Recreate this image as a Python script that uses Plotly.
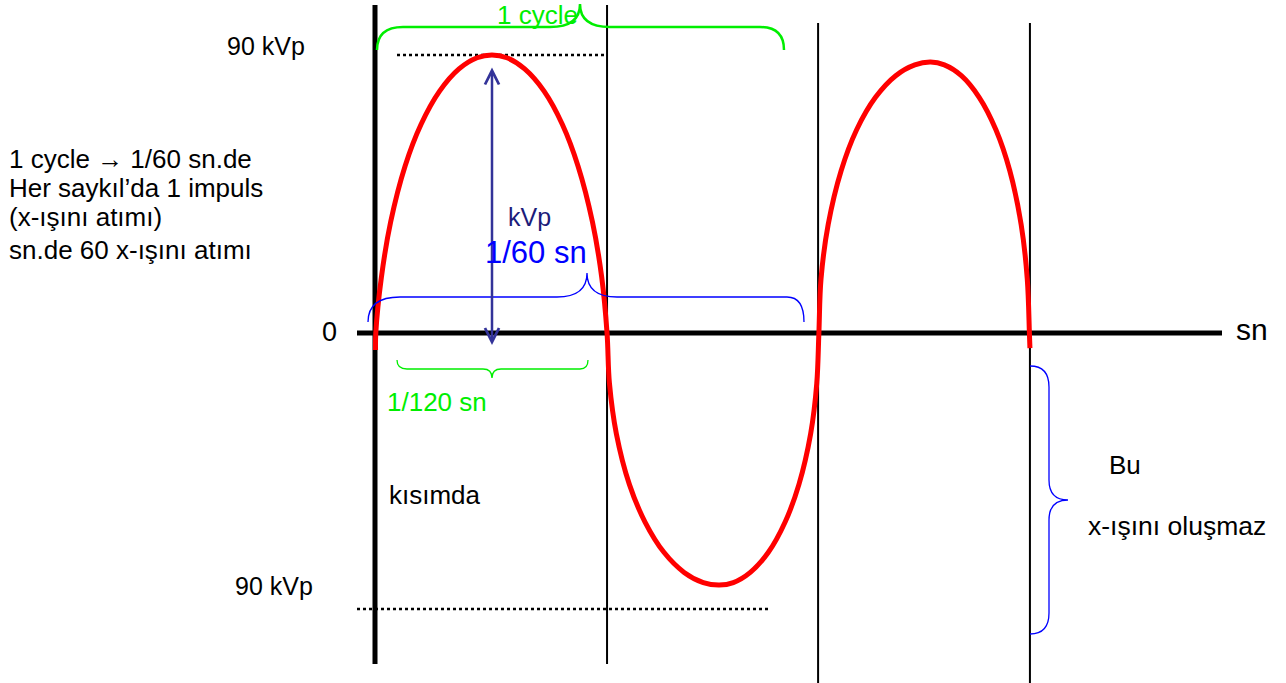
import plotly.graph_objects as go

# wave: time in ms (0 = first crossing), voltage in kVp
T_MS = [0.02, 0.03, 0.24, 0.59, 1.13, 1.73, 2.43, 3.16, 3.84, 4.40, 4.96, 5.63, 6.36,
        7.05, 7.64, 8.18, 8.53, 8.73,
        8.82, 9.08, 9.57, 10.16, 10.87, 11.63, 12.35, 12.95, 13.48, 14.12, 14.80,
        15.43, 15.95, 16.39, 16.62, 16.70,
        16.78, 17.05, 17.54, 18.12, 18.83, 19.59, 20.31, 20.90, 21.42, 22.06, 22.73,
        23.36, 23.88, 24.31, 24.54, 24.62, 24.64]
KVP = [-5.5, 0, 18, 36, 54, 67.5, 78.3, 85.5, 89.1, 90, 89.1, 85.5, 78.3,
       67.5, 54, 36, 18, 0,
       -16.3, -32.6, -49.0, -61.2, -71.0, -77.5, -80.8, -81.6, -80.8, -77.5, -71.0,
       -61.2, -49.0, -32.6, -16.3, 0,
       17.5, 35.1, 52.6, 65.8, 76.3, 83.3, 86.8, 87.7, 86.8, 83.3, 76.3,
       65.8, 52.6, 35.1, 17.5, 0, -4.9]

# half-cycle boundaries (ms) and peak level
CROSSINGS = [0, 8.73, 16.67, 24.64]
PEAK_KVP = 90

LEFT_NOTES = ["1 cycle \u2192 1/60 sn.de", "Her sayk\u0131l\u2019da 1 impuls",
              "(x-\u0131\u015f\u0131n\u0131 at\u0131m\u0131)", "sn.de 60 x-\u0131\u015f\u0131n\u0131 at\u0131m\u0131"]

RED = '#FF0000'
GREEN = '#00EE00'
BLUE = '#0000FF'
NAVY = '#333399'
BLACK = '#000000'
FONT = 'Liberation Sans, Arial, sans-serif'

W, H = 1286, 683
T0_PX = 375          # pixel of t = 0
PX_PER_MS = 26.58
Z_PX = 333           # pixel of 0 kVp
PX_PER_KV = 3.0889


def X(px):
    return (px - T0_PX) / PX_PER_MS


def Y(py):
    return (Z_PX - py) / PX_PER_KV


def P(px, py):
    return f'{X(px):.4f},{Y(py):.4f}'


def hbrace(x0, x1, xt, ye, yf, yt, r0, r1, rt):
    return (f'M {P(x0, ye)} Q {P(x0, yf)} {P(x0 + r0, yf)} L {P(xt - rt, yf)} '
            f'Q {P(xt, yf)} {P(xt, yt)} Q {P(xt, yf)} {P(xt + rt, yf)} '
            f'L {P(x1 - r1, yf)} Q {P(x1, yf)} {P(x1, ye)}')


def vbrace(y0, y1, yt, xe, xf, xt, r0, r1, rt):
    return (f'M {P(xe, y0)} Q {P(xf, y0)} {P(xf, y0 + r0)} L {P(xf, yt - rt)} '
            f'Q {P(xf, yt)} {P(xt, yt)} Q {P(xf, yt)} {P(xf, yt + rt)} '
            f'L {P(xf, y1 - r1)} Q {P(xf, y1)} {P(xe, y1)}')


fig = go.Figure()

fig.add_trace(go.Scatter(
    x=T_MS, y=KVP, mode='lines',
    line=dict(color=RED, width=5, shape='spline', smoothing=1.0),
    hoverinfo='skip', showlegend=False,
))

shapes = []
# time axis
shapes.append(dict(type='line', x0=X(357), x1=X(1222), y0=0, y1=0,
                   line=dict(color=BLACK, width=5), layer='below'))
# vertical markers at the crossings
v_tops = [5, 5, 23, 23]
v_bots = [664, 664, 683, 683]
v_w = [5, 2, 2, 2]
for t, top, bot, w in zip(CROSSINGS, v_tops, v_bots, v_w):
    shapes.append(dict(type='line', x0=t, x1=t, y0=Y(bot), y1=Y(top),
                       line=dict(color=BLACK, width=w), layer='below'))
# peak levels
shapes.append(dict(type='line', x0=X(397), x1=CROSSINGS[1], y0=PEAK_KVP, y1=PEAK_KVP,
                   line=dict(color=BLACK, width=2.5, dash='dot'), layer='below'))
shapes.append(dict(type='line', x0=X(357), x1=X(770), y0=Y(609), y1=Y(609),
                   line=dict(color=BLACK, width=2.5, dash='dot'), layer='below'))
# braces
shapes.append(dict(type='path', path=hbrace(377, 784, 580, 50, 27, 4, 26, 24, 30),
                   line=dict(color=GREEN, width=2.5)))
shapes.append(dict(type='path', path=hbrace(368, 804, 587, 322, 297, 273, 32, 17, 30),
                   line=dict(color=BLUE, width=1.3)))
shapes.append(dict(type='path', path=hbrace(397, 588, 492, 360, 369, 378, 10, 8, 9),
                   line=dict(color=GREEN, width=1.3)))
shapes.append(dict(type='path', path=vbrace(366, 634, 500, 1030, 1049, 1068, 21, 21, 20),
                   line=dict(color=BLUE, width=1.3)))

annotations = []


def txt(text, px, py, color=BLACK, size=26, xanchor='center'):
    annotations.append(dict(text=text, x=X(px), y=Y(py), xref='x', yref='y',
                            showarrow=False, xanchor=xanchor, yanchor='middle',
                            font=dict(family=FONT, size=size, color=color)))


# double arrow for kVp
annotations.append(dict(x=X(492), y=Y(345), ax=X(492), ay=Y(66), xref='x', yref='y',
                        axref='x', ayref='y', text='', showarrow=True,
                        arrowhead=5, startarrowhead=5, arrowside='end+start',
                        arrowsize=1.1, arrowwidth=2.5, arrowcolor=NAVY))

txt(f'{PEAK_KVP} kVp', 266, 46, size=25)
txt(f'{PEAK_KVP} kVp', 274, 586, size=25)
txt('0', 329, 332, size=27)
txt('sn', 1252, 329, size=30)
txt('1 cycle', 537, 15, color=GREEN)
txt('kVp', 529, 217, color='#1C1C7A', size=25)
txt('1/60 sn', 536, 252, color=BLUE, size=31)
txt('1/120 sn', 437, 402, color=GREEN)
txt('k\u0131s\u0131mda', 387, 495, xanchor='left')
txt('Bu', 1125, 465)
txt('x-\u0131\u015f\u0131n\u0131 olu\u015fmaz', 1177, 526, size=26.5)
for line, py in zip(LEFT_NOTES, [159, 188, 217, 250]):
    txt(line, 7, py, xanchor='left')

fig.update_layout(
    width=W, height=H,
    margin=dict(l=0, r=0, t=0, b=0),
    paper_bgcolor='white', plot_bgcolor='white',
    xaxis=dict(range=[X(0), X(W)], visible=False, fixedrange=True),
    yaxis=dict(range=[Y(H), Y(0)], visible=False, fixedrange=True),
    shapes=shapes, annotations=annotations,
    showlegend=False,
)

fig.write_html('out.html', config={'displayModeBar': False},
               post_script="document.body.style.margin='0';")
